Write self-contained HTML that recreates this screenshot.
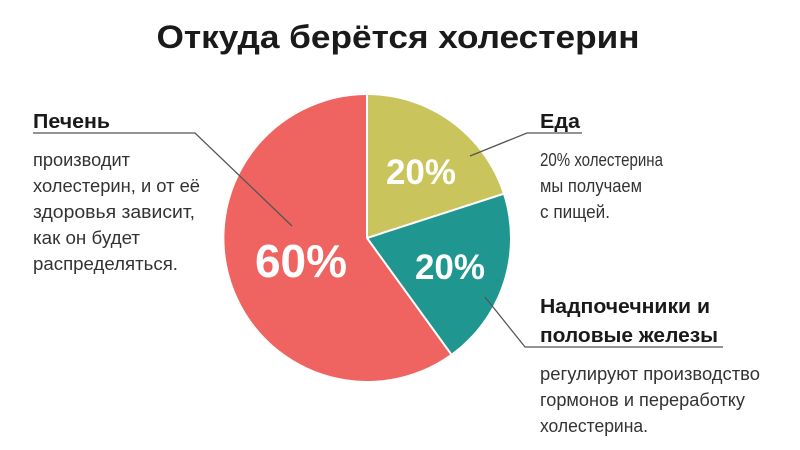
<!DOCTYPE html>
<html><head><meta charset="utf-8"><style>
html,body{margin:0;padding:0;background:#fff;}
svg{display:block;}
text{font-family:"Liberation Sans",sans-serif;}
.h{font-weight:bold;fill:#1a1a1a;font-size:20px;}
.b{fill:#333;font-size:18px;}
.p{font-weight:bold;fill:#fff;}
</style></head><body>
<svg width="800" height="450" viewBox="0 0 800 450">
<rect width="800" height="450" fill="#fff"/>
<text x="398" y="48" text-anchor="middle" font-size="32" font-weight="bold" fill="#1a1a1a" textLength="483" lengthAdjust="spacingAndGlyphs">Откуда берётся холестерин</text>
<!-- pie: center 367,238 r 143 -->
<path d="M367,238 L367,95 A143,143 0 0 1 503,194 Z" fill="#c9c45b"/>
<path d="M367,238 L503,194 A143,143 0 0 1 451,354 Z" fill="#1f9690"/>
<path d="M367,238 L451,354 A143,143 0 1 1 367,95 Z" fill="#ef6461"/>
<g stroke="#fff" stroke-width="2"><line x1="367" y1="238" x2="367" y2="95"/><line x1="367" y1="238" x2="503" y2="194"/><line x1="367" y1="238" x2="451" y2="354"/></g>
<text class="p" x="301" y="277" font-size="46" text-anchor="middle">60%</text>
<text class="p" x="421" y="184" font-size="35" text-anchor="middle">20%</text>
<text class="p" x="450" y="279" font-size="35" text-anchor="middle">20%</text>
<g stroke="#555" stroke-width="1.3" fill="none">
<polyline points="33,133 195,133 292,226"/>
<polyline points="470,156 527,133 582,133"/>
<polyline points="485,297 525,347 723,347"/>
</g>
<text class="h" x="33" y="128" textLength="77" lengthAdjust="spacingAndGlyphs">Печень</text>
<text class="b" x="33" y="166" textLength="97" lengthAdjust="spacingAndGlyphs">производит</text>
<text class="b" x="33" y="192" textLength="167" lengthAdjust="spacingAndGlyphs">холестерин, и от её</text>
<text class="b" x="33" y="218" textLength="162" lengthAdjust="spacingAndGlyphs">здоровья зависит,</text>
<text class="b" x="33" y="244" textLength="107" lengthAdjust="spacingAndGlyphs">как он будет</text>
<text class="b" x="33" y="270" textLength="145" lengthAdjust="spacingAndGlyphs">распределяться.</text>
<text class="h" x="540" y="128" textLength="40" lengthAdjust="spacingAndGlyphs">Еда</text>
<text class="b" x="540" y="166" textLength="123" lengthAdjust="spacingAndGlyphs">20% холестерина</text>
<text class="b" x="540" y="192" textLength="102" lengthAdjust="spacingAndGlyphs">мы получаем</text>
<text class="b" x="540" y="218" textLength="70" lengthAdjust="spacingAndGlyphs">с пищей.</text>
<text class="h" x="540" y="313" textLength="170" lengthAdjust="spacingAndGlyphs">Надпочечники и</text>
<text class="h" x="540" y="342" textLength="178" lengthAdjust="spacingAndGlyphs">половые железы</text>
<text class="b" x="540" y="380" textLength="220" lengthAdjust="spacingAndGlyphs">регулируют производство</text>
<text class="b" x="540" y="406" textLength="205" lengthAdjust="spacingAndGlyphs">гормонов и переработку</text>
<text class="b" x="540" y="432" textLength="108" lengthAdjust="spacingAndGlyphs">холестерина.</text>
</svg>
</body></html>
